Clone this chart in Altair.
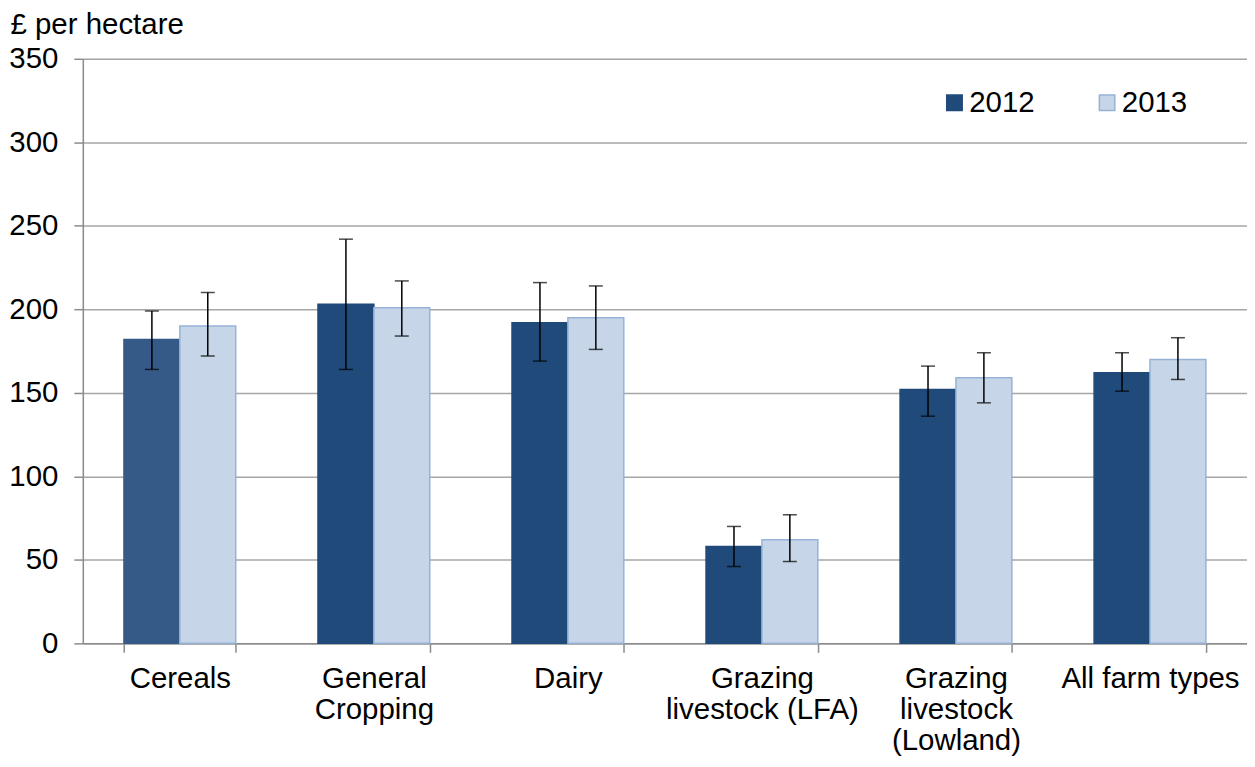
import altair as alt
import pandas as pd

categories = ["Cereals", "General|Cropping", "Dairy", "Grazing|livestock (LFA)",
              "Grazing|livestock|(Lowland)", "All farm types"]
years = ["2012", "2013"]
v2012 = [182, 203, 192, 58, 152, 162]
v2013 = [190, 201, 195, 62, 159, 170]
lo2012 = [164, 164, 169, 46, 136, 151]
hi2012 = [199, 242, 216, 70, 166, 174]
lo2013 = [172, 184, 176, 49, 144, 158]
hi2013 = [210, 217, 214, 77, 174, 183]

rows = []
for i, c in enumerate(categories):
    rows.append(dict(cat=c, year="2012", tone="2012a" if i == 0 else "2012",
                     value=v2012[i], lo=lo2012[i], hi=hi2012[i]))
    rows.append(dict(cat=c, year="2013", tone="2013",
                     value=v2013[i], lo=lo2013[i], hi=hi2013[i]))
df = pd.DataFrame(rows)

FONT = "Liberation Sans"
FS = 29.5
x_enc = alt.X("cat:N", sort=categories, title=None,
              scale=alt.Scale(paddingInner=0.424, paddingOuter=0.212),
              axis=alt.Axis(labelExpr="split(datum.label, '|')", labelAngle=0,
                            labelFontSize=FS, labelFont=FONT, labelColor="#000000",
                            labelLineHeight=31, labelPadding=12, labelBaseline="top",
                            labelLimit=400,
                            tickBand="extent", tickSize=9, tickColor="#8c8c8c",
                            domainColor="#8c8c8c", domainWidth=1.5, tickWidth=1.5,
                            grid=False))
xoff = alt.XOffset("year:N", scale=alt.Scale(domain=years, paddingInner=0, paddingOuter=0))

legend = alt.Legend(values=["2012", "2013"], title=None, orient="none",
                    legendX=859, legendY=29, direction="horizontal",
                    labelFontSize=FS, labelFont=FONT, labelColor="#000000",
                    symbolType="square", symbolSize=240, columnPadding=57,
                    labelOffset=0, symbolStrokeWidth=1.5)

tone_domain = ["2012", "2013", "2012a"]
bars = alt.Chart(df).mark_bar(strokeWidth=1.5).encode(
    x=x_enc,
    xOffset=xoff,
    y=alt.Y("value:Q",
            scale=alt.Scale(domain=[0, 350], nice=False),
            axis=alt.Axis(values=[0, 50, 100, 150, 200, 250, 300, 350],
                          title="£ per hectare", titleAngle=0, titleAlign="left",
                          titleBaseline="alphabetic", titleX=-73, titleY=-25,
                          titleFont=FONT, titleFontSize=FS, titleFontWeight="normal",
                          titleColor="#000000",
                          labelFont=FONT, labelFontSize=FS, labelColor="#000000",
                          labelPadding=16, tickSize=9, tickColor="#8c8c8c",
                          tickWidth=1.5, domainColor="#8c8c8c", domainWidth=1.5,
                          gridColor="#a6a6a6", gridWidth=1.5)),
    fill=alt.Fill("tone:N", scale=alt.Scale(domain=tone_domain,
                                            range=["#1f4a7a", "#c6d5e8", "#355a88"]),
                  legend=legend),
    stroke=alt.Stroke("tone:N", scale=alt.Scale(domain=tone_domain,
                                                range=["#1f4a7a", "#95b3d7", "#355a88"]),
                      legend=legend),
)

rules = alt.Chart(df).mark_rule(color="#000000", strokeWidth=1.5).encode(
    x=x_enc, xOffset=xoff, y="lo:Q", y2="hi:Q")
caps_lo = alt.Chart(df).mark_tick(color="#000000", thickness=1.5, size=14).encode(
    x=x_enc, xOffset=xoff, y="lo:Q")
caps_hi = alt.Chart(df).mark_tick(color="#000000", thickness=1.5, size=14).encode(
    x=x_enc, xOffset=xoff, y="hi:Q")

chart = alt.layer(bars, rules, caps_lo, caps_hi).properties(
    width=1167, height=586,
    autosize=alt.AutoSizeParams(type="none"),
    padding={"left": 75, "top": 50, "right": 0, "bottom": 112},
).configure_view(stroke=None).configure(font=FONT)

chart.save("out.html", embed_options={"renderer": "svg", "actions": False})
